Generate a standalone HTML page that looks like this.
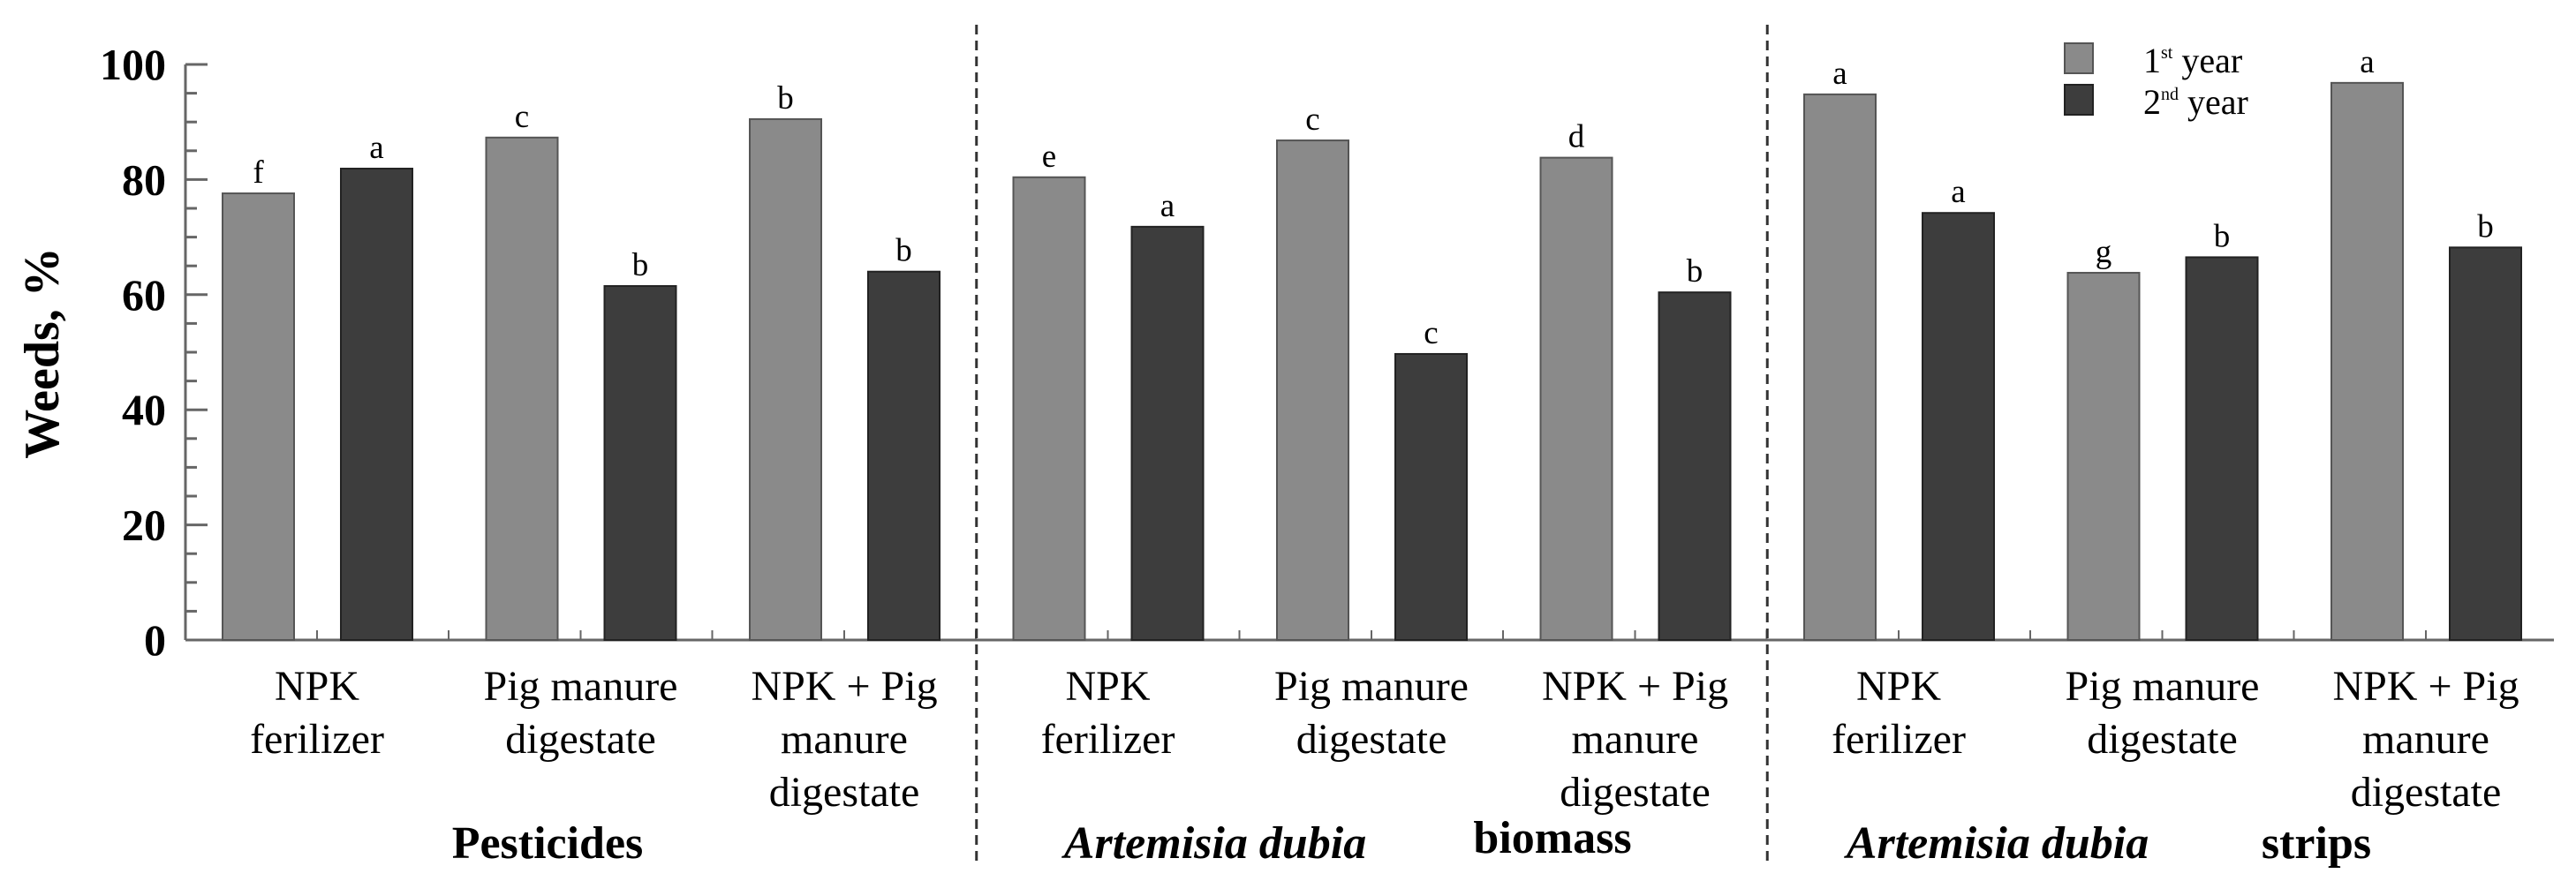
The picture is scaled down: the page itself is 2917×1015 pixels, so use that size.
<!DOCTYPE html>
<html><head><meta charset="utf-8">
<style>
html,body{margin:0;padding:0;background:#fff;}
svg{display:block;font-family:"Liberation Serif",serif;}
</style></head>
<body>
<svg id="chart" width="2917" height="1015" viewBox="0 0 2917 1015" xmlns="http://www.w3.org/2000/svg">
<g id="axes"></g>
<g id="bars"></g>
<g id="labels"></g>
<text transform="translate(66,400) rotate(-90)" text-anchor="middle" font-size="56" font-weight="bold">Weeds, %</text>
<g>
  <rect x="2338" y="49" width="32" height="34" fill="#8a8a8a" stroke="#555" stroke-width="2"/>
  <rect x="2338" y="96" width="32" height="34" fill="#3d3d3d" stroke="#222" stroke-width="2"/>
  <text x="2427" y="82" font-size="40">1<tspan font-size="20" dy="-16">st</tspan><tspan dy="16"> year</tspan></text>
  <text x="2427" y="129" font-size="40">2<tspan font-size="20" dy="-16">nd</tspan><tspan dy="16"> year</tspan></text>
</g>
<g font-size="52" font-weight="bold">
  <text x="620" y="972" text-anchor="middle">Pesticides</text>
  <text x="1376" y="972" text-anchor="middle" font-style="italic">Artemisia dubia</text>
  <text x="1758" y="966" text-anchor="middle">biomass</text>
  <text x="2262" y="972" text-anchor="middle" font-style="italic">Artemisia dubia</text>
  <text x="2623" y="972" text-anchor="middle">strips</text>
</g>
</svg>
<script>
const categories = [["NPK","ferilizer"],["Pig manure","digestate"],["NPK + Pig","manure","digestate"],
                    ["NPK","ferilizer"],["Pig manure","digestate"],["NPK + Pig","manure","digestate"],
                    ["NPK","ferilizer"],["Pig manure","digestate"],["NPK + Pig","manure","digestate"]];
const year1 = [77.6, 87.3, 90.5, 80.4, 86.8, 83.8, 94.8, 63.8, 96.8];
const year2 = [81.9, 61.5, 64.0, 71.8, 49.7, 60.4, 74.2, 66.5, 68.2];
const letters1 = ["f","c","b","e","c","d","a","g","a"];
const letters2 = ["a","b","b","a","c","b","a","b","b"];
const yTicks = [0,20,40,60,80,100];
const separators = [3, 6];

const NS="http://www.w3.org/2000/svg";
const Y0=725, Y100=73, X0=210, XEND=2892;
const y = v => Y0 - (Y0-Y100)*v/100;
const groupStart = g => 252 + 298.5*g;
const BW=81, OFF=134;
function el(tag, attrs, parent, txt){
  const e=document.createElementNS(NS,tag);
  for(const k in attrs) e.setAttribute(k, attrs[k]);
  if(txt!==undefined) e.textContent=txt;
  parent.appendChild(e); return e;
}
const axes=document.getElementById('axes'), bars=document.getElementById('bars'), labels=document.getElementById('labels');

let e=el('line',{x1:X0,y1:Y0,x2:XEND,y2:Y0,stroke:'#666','stroke-width':3},axes);
 
e=el('line',{x1:X0,y1:Y100,x2:X0,y2:Y0,stroke:'#666','stroke-width':3},axes);
 
for(let v=0; v<=100; v+=5){
  const major = v%20===0;
  e=el('line',{x1:X0,y1:y(v),x2:X0+(major?25:13),y2:y(v),stroke:'#666','stroke-width':3},axes);
   
}
yTicks.forEach(v=>{
  e=el('text',{x:188,y:y(v)+17,'text-anchor':'end','font-size':50,'font-weight':'bold'},axes,String(v));
   
});
for(let g=0; g<categories.length; g++){
  const gs=groupStart(g);
  [gs+107, gs+256].forEach(xx=>{
    if(xx>XEND-5) return;
    e=el('line',{x1:xx,y1:Y0,x2:xx,y2:Y0-11,stroke:'#666','stroke-width':2},axes);
     
  });
}
separators.forEach(s=>{
  const xs = (groupStart(s-1)+BW+OFF + groupStart(s))/2;
  e=el('line',{x1:xs,y1:28,x2:xs,y2:978,stroke:'#333','stroke-width':3,'stroke-dasharray':'11 7'},axes);
   
});
categories.forEach((lines,g)=>{
  const gs=groupStart(g);
  const b1=el('rect',{x:gs,y:y(year1[g]),width:BW,height:Y0-y(year1[g]),fill:'#8a8a8a',stroke:'#555','stroke-width':2},bars);
   
  const b2=el('rect',{x:gs+OFF,y:y(year2[g]),width:BW,height:Y0-y(year2[g]),fill:'#3d3d3d',stroke:'#222','stroke-width':2},bars);
   
  e=el('text',{x:gs+BW/2,y:y(year1[g])-12,'text-anchor':'middle','font-size':37},labels,letters1[g]);
   
  e=el('text',{x:gs+OFF+BW/2,y:y(year2[g])-12,'text-anchor':'middle','font-size':37},labels,letters2[g]);
   
  lines.forEach((t,i)=>{
    e=el('text',{x:gs+107,y:793+i*60,'text-anchor':'middle','font-size':48},labels,t);
     
  });
});
</script>
</body></html>
